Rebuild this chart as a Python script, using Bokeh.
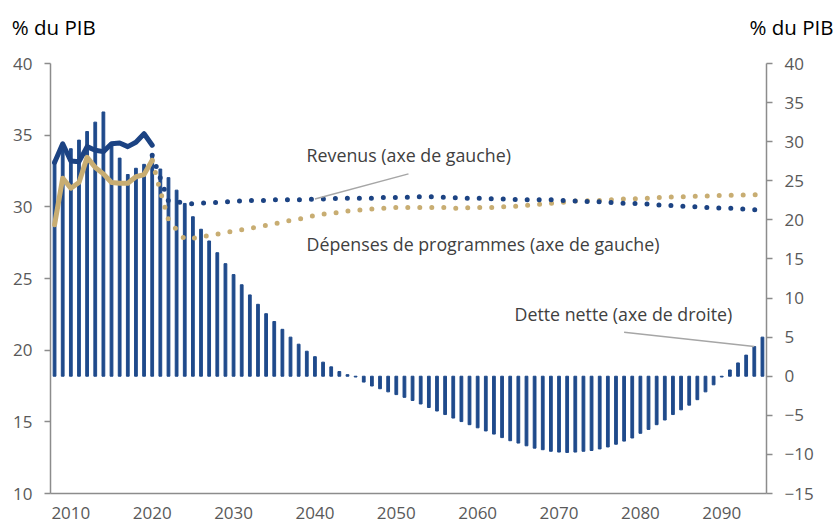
from bokeh.plotting import figure
from bokeh.models import Range1d, LinearAxis, Label, FixedTicker
from bokeh.embed import file_html
from bokeh.resources import INLINE

# ---------------- data ----------------
years = list(range(2008, 2096))
dette_nette = [
    27.6, 29.0, 29.1, 30.2, 31.3, 32.5, 33.8, 29.9, 27.9, 25.8,
    26.6, 27.1, 28.4, 26.5, 25.4, 23.8, 22.1, 20.4, 18.8, 17.3,
    15.8, 14.4, 13.0, 11.7, 10.4, 9.2, 8.0, 7.0, 6.0, 5.0,
    4.1, 3.2, 2.5, 1.8, 1.2, 0.6, 0.2, -0.1, -0.75, -1.25,
    -1.6, -2.0, -2.35, -2.7, -3.1, -3.55, -4.0, -4.45, -4.9, -5.35,
    -5.8, -6.2, -6.6, -7.0, -7.4, -7.85, -8.25, -8.55, -8.9, -9.2,
    -9.4, -9.6, -9.7, -9.75, -9.7, -9.6, -9.5, -9.3, -9.05, -8.7,
    -8.3, -7.9, -7.3, -6.8, -6.2, -5.6, -4.9, -4.3, -3.7, -3.0,
    -2.0, -1.1, -0.1, 0.8, 1.7, 2.7, 3.8, 5.0,
]

hist_years = list(range(2008, 2021))
revenus_hist = [33.1, 34.4, 33.2, 33.15, 34.2, 33.95, 33.85, 34.4, 34.45, 34.2, 34.5, 35.1, 34.3]
depenses_hist = [28.75, 32.0, 31.3, 31.7, 33.45, 32.75, 32.3, 31.7, 31.65, 31.65, 32.1, 32.25, 33.25]

proj_years = list(range(2020, 2096))
revenus_proj = [
    33.6, 32.0, 30.4, 30.35, 30.25, 30.2, 30.25, 30.3, 30.3, 30.35,
    30.4, 30.4, 30.45, 30.45, 30.45, 30.5, 30.5, 30.5, 30.5, 30.5,
    30.55, 30.55, 30.55, 30.6, 30.6, 30.6, 30.6, 30.6, 30.65, 30.65,
    30.65, 30.65, 30.7, 30.7, 30.7, 30.7, 30.65, 30.65, 30.6, 30.6,
    30.6, 30.6, 30.55, 30.55, 30.55, 30.5, 30.5, 30.5, 30.5, 30.5,
    30.45, 30.45, 30.4, 30.4, 30.35, 30.35, 30.3, 30.3, 30.25, 30.25,
    30.2, 30.2, 30.15, 30.1, 30.1, 30.05, 30.0, 30.0, 29.95, 29.95,
    29.9, 29.9, 29.85, 29.85, 29.8, 29.8,
]
depenses_proj = [
    33.2, 31.1, 29.1, 28.4, 27.75, 27.8, 27.9, 28.0, 28.1, 28.2,
    28.3, 28.4, 28.5, 28.6, 28.7, 28.8, 28.95, 29.05, 29.15, 29.25,
    29.4, 29.5, 29.55, 29.6, 29.7, 29.75, 29.8, 29.85, 29.9, 29.9,
    29.95, 29.95, 29.95, 29.95, 29.95, 29.95, 29.95, 29.9, 29.9, 29.95,
    29.95, 29.95, 29.95, 30.0, 30.0, 30.05, 30.1, 30.15, 30.2, 30.25,
    30.3, 30.35, 30.4, 30.4, 30.45, 30.45, 30.5, 30.5, 30.55, 30.55,
    30.6, 30.6, 30.65, 30.65, 30.7, 30.7, 30.7, 30.75, 30.75, 30.75,
    30.8, 30.8, 30.8, 30.85, 30.85, 30.85,
]

x_ticks = [2010, 2020, 2030, 2040, 2050, 2060, 2070, 2080, 2090]
left_ticks = [10, 15, 20, 25, 30, 35, 40]
right_ticks = [-15, -10, -5, 0, 5, 10, 15, 20, 25, 30, 35, 40]
unit_title = "% du PIB"

# ---------------- style ----------------
BAR_BLUE = "#1F4A8B"
BLUE = "#1C4383"
GOLD = "#C8AD72"
AXIS = "#8C8C8C"
TICK_TXT = "#595959"
ANN_TXT = "#404040"
FONT = "Open Sans"

p = figure(width=835, height=527, output_backend="svg", toolbar_location=None,
           x_range=Range1d(2007.5, 2095.5), y_range=Range1d(10, 40),
           x_axis_location=None, y_axis_location=None,
           min_border_left=50, min_border_right=69, min_border_top=63,
           min_border_bottom=34)
p.extra_y_ranges = {"right": Range1d(-15, 40)}
p.outline_line_color = None
p.grid.grid_line_color = None
p.background_fill_color = "white"
p.border_fill_color = "white"

def style_axis(ax, tick_out, standoff):
    ax.axis_line_color = AXIS
    ax.axis_line_width = 1.5
    ax.major_tick_line_color = AXIS
    ax.major_tick_line_width = 1.5
    ax.major_tick_out = tick_out
    ax.major_tick_in = 0
    ax.minor_tick_line_color = None
    ax.major_label_text_font = FONT
    ax.major_label_text_font_size = "17px"
    ax.major_label_text_color = TICK_TXT
    ax.major_label_standoff = standoff

xaxis = LinearAxis(ticker=FixedTicker(ticks=x_ticks))
style_axis(xaxis, 0, 13)
xaxis.major_tick_line_color = None
p.add_layout(xaxis, "below")

yleft = LinearAxis(ticker=FixedTicker(ticks=left_ticks))
style_axis(yleft, 6, 12)
p.add_layout(yleft, "left")

yright = LinearAxis(y_range_name="right", ticker=FixedTicker(ticks=right_ticks))
style_axis(yright, 6, 12)
p.add_layout(yright, "right")

# unit titles above both y axes (drawn as labels of a bare top axis)
title_left_pos, title_right_pos = 2007.9, 2095.3
top = LinearAxis(ticker=FixedTicker(ticks=[title_left_pos, title_right_pos]))
top.axis_line_color = None
top.major_tick_line_color = None
top.minor_tick_line_color = None
top.major_tick_out = 0
top.major_tick_in = 0
top.major_label_standoff = 23
top.major_label_text_font = FONT
top.major_label_text_font_size = "20.5px"
top.major_label_text_color = "black"
top.major_label_overrides = {title_left_pos: unit_title,
                             title_right_pos: "\u00a0" * 10 + unit_title}
p.add_layout(top, "above")

# bars: dette nette (right axis)
p.vbar(x=years, top=dette_nette, bottom=0, width=0.34, color=BAR_BLUE,
       y_range_name="right")

# lines (left axis)
p.line(proj_years, depenses_proj, line_color=GOLD, line_width=5,
       line_dash="0 12", line_cap="round")
p.line(proj_years, revenus_proj, line_color=BLUE, line_width=5,
       line_dash="0 12", line_cap="round")
p.line(hist_years, depenses_hist, line_color=GOLD, line_width=5,
       line_join="round", line_cap="round")
p.line(hist_years, revenus_hist, line_color=BLUE, line_width=5,
       line_join="round", line_cap="round")

# leader lines for annotations
rev_anchor_year = 2040
p.segment(x0=[2051.5], y0=[32.3], x1=[rev_anchor_year],
          y1=[revenus_proj[proj_years.index(rev_anchor_year)]],
          line_color="#A6A6A6", line_width=1.5)
dette_anchor_year = 2094
p.segment(x0=[2078.0], y0=[5.63], x1=[dette_anchor_year],
          y1=[dette_nette[years.index(dette_anchor_year)]],
          line_color="#A6A6A6", line_width=1.5, y_range_name="right")

def ann(x, y, text, **kw):
    p.add_layout(Label(x=x, y=y, text=text, text_font=FONT,
                       text_font_size="17.8px", text_color=ANN_TXT,
                       text_baseline="alphabetic", **kw))

ann(2038.97, 33.63, "Revenus (axe de gauche)")
ann(2038.97, 27.40, "Dépenses de programmes (axe de gauche)")
ann(2064.53, 22.50, "Dette nette (axe de droite)")

open("out.html", "w").write(file_html(p, INLINE))
